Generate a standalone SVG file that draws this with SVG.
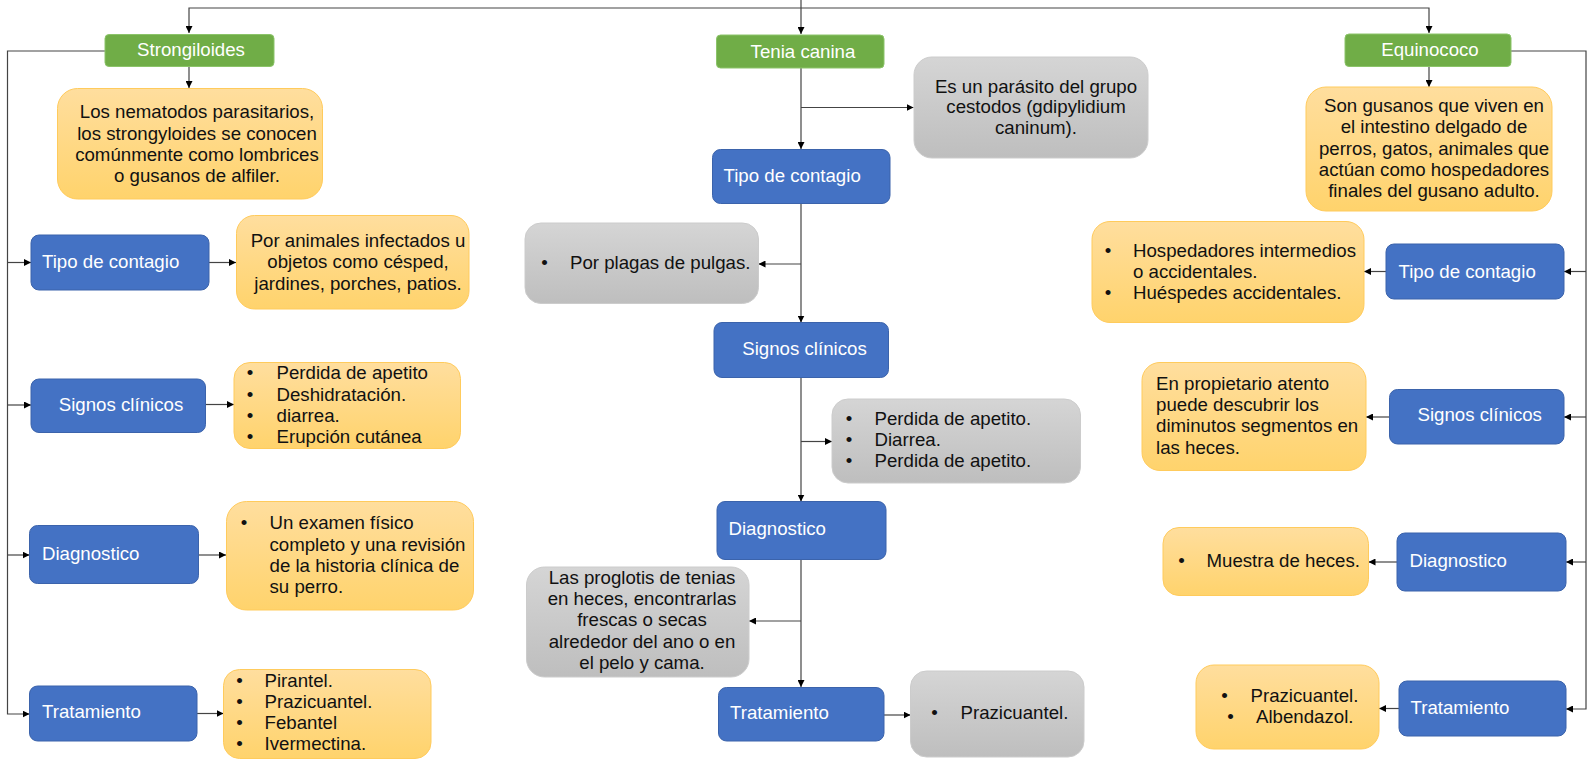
<svg xmlns="http://www.w3.org/2000/svg" width="1588" height="759" viewBox="0 0 1588 759">
<defs>
<linearGradient id="gy" x1="0" y1="0" x2="0" y2="1"><stop offset="0" stop-color="#FFDE9E"/><stop offset="1" stop-color="#FFD36C"/></linearGradient>
<linearGradient id="gg" x1="0" y1="0" x2="0" y2="1"><stop offset="0" stop-color="#D5D5D5"/><stop offset="1" stop-color="#BEBEBE"/></linearGradient>
<marker id="ar" viewBox="0 0 7 7" refX="7" refY="3.5" markerWidth="7" markerHeight="7" markerUnits="userSpaceOnUse" orient="auto"><path d="M0,0 L7,3.5 L0,7 z" fill="#000"/></marker>
<style>
text{font-family:"Liberation Sans",Arial,sans-serif;font-size:18.67px;fill:#111}
.w{fill:#fff}
.m{text-anchor:middle}
.green{fill:#70AD47;stroke:#8CC46A;stroke-width:1}
.blue{fill:#4472C4;stroke:#3B63AB;stroke-width:1}
.yel{fill:url(#gy);stroke:#FFCB5C;stroke-width:1}
.gray{fill:url(#gg);stroke:#CCCCCC;stroke-width:1}
.c{fill:none;stroke:#444;stroke-width:1.2}
.a{marker-end:url(#ar)}
</style>
</defs>
<rect width="1588" height="759" fill="#fff"/>
<g id="connectors">
<path class="c a" d="M801,0 V34"/>
<path class="c a" d="M801,8 H189 V33"/>
<path class="c a" d="M801,8 H1429 V33"/>
<path class="c a" d="M189,67 V88"/>
<path class="c a" d="M105,51 H7.5 V714 H29.5"/>
<path class="c a" d="M7.5,262.5 H31"/>
<path class="c a" d="M7.5,405 H31"/>
<path class="c a" d="M7.5,555 H29.5"/>
<path class="c a" d="M209,262.5 H236"/>
<path class="c a" d="M205.5,404.5 H234"/>
<path class="c a" d="M198.5,555 H226"/>
<path class="c a" d="M197,713.5 H223.5"/>
<path class="c a" d="M801,68 V149"/>
<path class="c a" d="M801,107.5 H913.5"/>
<path class="c a" d="M801,203 V322.5"/>
<path class="c a" d="M801,264 H758.5"/>
<path class="c a" d="M801,378 V501.5"/>
<path class="c a" d="M801,441.5 H832"/>
<path class="c a" d="M801,559 V687"/>
<path class="c a" d="M801,621 H749"/>
<path class="c a" d="M884,715 H910.5"/>
<path class="c a" d="M1429,66.5 V87"/>
<path class="c a" d="M1511,51 H1586 V709 H1566"/>
<path class="c a" d="M1586,271.5 H1564"/>
<path class="c a" d="M1586,417 H1564"/>
<path class="c a" d="M1586,562 H1566"/>
<path class="c a" d="M1386,271.5 H1364"/>
<path class="c a" d="M1389,417 H1366"/>
<path class="c a" d="M1397,562 H1368.5"/>
<path class="c a" d="M1399,708.5 H1379"/>
</g>
<g id="strongiloides"><rect class="green" x="105" y="34.5" width="169" height="32" rx="4"/><text class="w m" x="191" y="56">Strongiloides</text></g>
<g id="tenia"><rect class="green" x="716.5" y="35" width="167.5" height="33" rx="4"/><text class="w m" x="803" y="58">Tenia canina</text></g>
<g id="equinococo"><rect class="green" x="1345" y="34" width="166" height="32.5" rx="4"/><text class="w m" x="1430" y="56">Equinococo</text></g>

<g id="s-desc"><rect class="yel" x="57.5" y="88.5" width="265" height="110.5" rx="20"/>
<text class="m" x="197"><tspan x="197" y="118">Los nematodos parasitarios,</tspan><tspan x="197" y="139.5">los strongyloides se conocen</tspan><tspan x="197" y="161">comúnmente como lombrices</tspan><tspan x="197" y="182">o gusanos de alfiler.</tspan></text></g>
<g id="s-tipo"><rect class="blue" x="31" y="235" width="178" height="55" rx="8"/><text class="w" x="42" y="268">Tipo de contagio</text></g>
<g id="s-tipo-d"><rect class="yel" x="236.5" y="215.5" width="232.5" height="93.5" rx="18"/>
<text class="m"><tspan x="358" y="246.5">Por animales infectados u</tspan><tspan x="358" y="268">objetos como césped,</tspan><tspan x="358" y="289.5">jardines, porches, patios.</tspan></text></g>
<g id="s-signos"><rect class="blue" x="31" y="379" width="174.5" height="53.5" rx="8"/><text class="w m" x="121" y="411">Signos clínicos</text></g>
<g id="s-signos-d"><rect class="yel" x="234" y="362.5" width="226.5" height="86" rx="16"/>
<text class="m"><tspan x="250" y="379">•</tspan><tspan x="250" y="400.5">•</tspan><tspan x="250" y="421.5">•</tspan><tspan x="250" y="442.5">•</tspan></text>
<text><tspan x="276.5" y="379">Perdida de apetito</tspan><tspan x="276.5" y="400.5">Deshidratación.</tspan><tspan x="276.5" y="421.5">diarrea.</tspan><tspan x="276.5" y="442.5">Erupción cutánea</tspan></text></g>
<g id="s-diag"><rect class="blue" x="29.5" y="525.5" width="169" height="58" rx="8"/><text class="w" x="42" y="559.5">Diagnostico</text></g>
<g id="s-diag-d"><rect class="yel" x="226.5" y="501.5" width="247" height="108.5" rx="20"/>
<text class="m" x="244" y="529">•</text>
<text><tspan x="269.5" y="529">Un examen físico</tspan><tspan x="269.5" y="550.5">completo y una revisión</tspan><tspan x="269.5" y="572">de la historia clínica de</tspan><tspan x="269.5" y="593">su perro.</tspan></text></g>
<g id="s-trat"><rect class="blue" x="29.5" y="686" width="167.5" height="55" rx="8"/><text class="w" x="42" y="718">Tratamiento</text></g>
<g id="s-trat-d"><rect class="yel" x="223.5" y="669.5" width="207.5" height="89" rx="16"/>
<text class="m"><tspan x="239.5" y="687">•</tspan><tspan x="239.5" y="708">•</tspan><tspan x="239.5" y="729">•</tspan><tspan x="239.5" y="750">•</tspan></text>
<text><tspan x="264.5" y="687">Pirantel.</tspan><tspan x="264.5" y="708">Prazicuantel.</tspan><tspan x="264.5" y="729">Febantel</tspan><tspan x="264.5" y="750">Ivermectina.</tspan></text></g>

<g id="t-desc"><rect class="gray" x="914" y="57" width="234" height="101" rx="18"/>
<text class="m"><tspan x="1036" y="92.5">Es un parásito del grupo</tspan><tspan x="1036" y="113">cestodos (gdipylidium</tspan><tspan x="1036" y="134">caninum).</tspan></text></g>
<g id="t-tipo"><rect class="blue" x="712.5" y="149.5" width="177.5" height="54" rx="8"/><text class="w" x="723.5" y="181.5">Tipo de contagio</text></g>
<g id="t-tipo-d"><rect class="gray" x="525" y="223" width="233.5" height="80.5" rx="16"/>
<text class="m" x="544.5" y="268.5">•</text><text x="570" y="268.5">Por plagas de pulgas.</text></g>
<g id="t-signos"><rect class="blue" x="714" y="322.5" width="174.5" height="55" rx="8"/><text class="w m" x="804.5" y="354.5">Signos clínicos</text></g>
<g id="t-signos-d"><rect class="gray" x="832" y="399" width="248.5" height="84" rx="16"/>
<text class="m"><tspan x="849" y="424.5">•</tspan><tspan x="849" y="446">•</tspan><tspan x="849" y="467">•</tspan></text>
<text><tspan x="874.5" y="424.5">Perdida de apetito.</tspan><tspan x="874.5" y="446">Diarrea.</tspan><tspan x="874.5" y="467">Perdida de apetito.</tspan></text></g>
<g id="t-diag"><rect class="blue" x="717" y="501.5" width="169" height="58" rx="8"/><text class="w" x="728.5" y="535">Diagnostico</text></g>
<g id="t-diag-d"><rect class="gray" x="526.5" y="567" width="222.5" height="110" rx="18"/>
<text class="m"><tspan x="642" y="583.5">Las proglotis de tenias</tspan><tspan x="642" y="604.5">en heces, encontrarlas</tspan><tspan x="642" y="626">frescas o secas</tspan><tspan x="642" y="647.5">alrededor del ano o en</tspan><tspan x="642" y="669">el pelo y cama.</tspan></text></g>
<g id="t-trat"><rect class="blue" x="718.5" y="687.5" width="165.5" height="53.5" rx="8"/><text class="w" x="730" y="718.5">Tratamiento</text></g>
<g id="t-trat-d"><rect class="gray" x="910.5" y="671" width="173.5" height="86" rx="16"/>
<text class="m" x="934.5" y="718.5">•</text><text x="960.5" y="718.5">Prazicuantel.</text></g>

<g id="e-desc"><rect class="yel" x="1306" y="87" width="246" height="124" rx="20"/>
<text class="m"><tspan x="1434" y="111.5">Son gusanos que viven en</tspan><tspan x="1434" y="133">el intestino delgado de</tspan><tspan x="1434" y="154.5">perros, gatos, animales que</tspan><tspan x="1434" y="175.5">actúan como hospedadores</tspan><tspan x="1434" y="197">finales del gusano adulto.</tspan></text></g>
<g id="e-tipo"><rect class="blue" x="1386" y="244" width="178" height="55" rx="8"/><text class="w" x="1398.5" y="277.5">Tipo de contagio</text></g>
<g id="e-tipo-d"><rect class="yel" x="1092" y="221.5" width="272" height="101" rx="18"/>
<text class="m"><tspan x="1108" y="256.5">•</tspan><tspan x="1108" y="298.5">•</tspan></text>
<text><tspan x="1133" y="256.5">Hospedadores intermedios</tspan><tspan x="1133" y="277.5">o accidentales.</tspan><tspan x="1133" y="298.5">Huéspedes accidentales.</tspan></text></g>
<g id="e-signos"><rect class="blue" x="1389.5" y="389.5" width="174.5" height="54.5" rx="8"/><text class="w" x="1417.5" y="421">Signos clínicos</text></g>
<g id="e-signos-d"><rect class="yel" x="1142" y="362.5" width="224" height="108" rx="18"/>
<text><tspan x="1156" y="389.5">En propietario atento</tspan><tspan x="1156" y="410.5">puede descubrir los</tspan><tspan x="1156" y="432">diminutos segmentos en</tspan><tspan x="1156" y="453.5">las heces.</tspan></text></g>
<g id="e-diag"><rect class="blue" x="1397" y="533" width="169" height="58" rx="8"/><text class="w" x="1409.5" y="567">Diagnostico</text></g>
<g id="e-diag-d"><rect class="yel" x="1163" y="527.5" width="205.5" height="68" rx="16"/>
<text class="m" x="1181.5" y="567">•</text><text x="1206.5" y="567">Muestra de heces.</text></g>
<g id="e-trat"><rect class="blue" x="1399" y="681" width="167" height="55" rx="8"/><text class="w" x="1410.5" y="713.5">Tratamiento</text></g>
<g id="e-trat-d"><rect class="yel" x="1196" y="665" width="183" height="84" rx="18"/>
<text class="m"><tspan x="1224.5" y="702">•</tspan><tspan x="1230.5" y="723">•</tspan></text>
<text><tspan x="1250.5" y="702">Prazicuantel.</tspan><tspan x="1256" y="723">Albendazol.</tspan></text></g>
</svg>
